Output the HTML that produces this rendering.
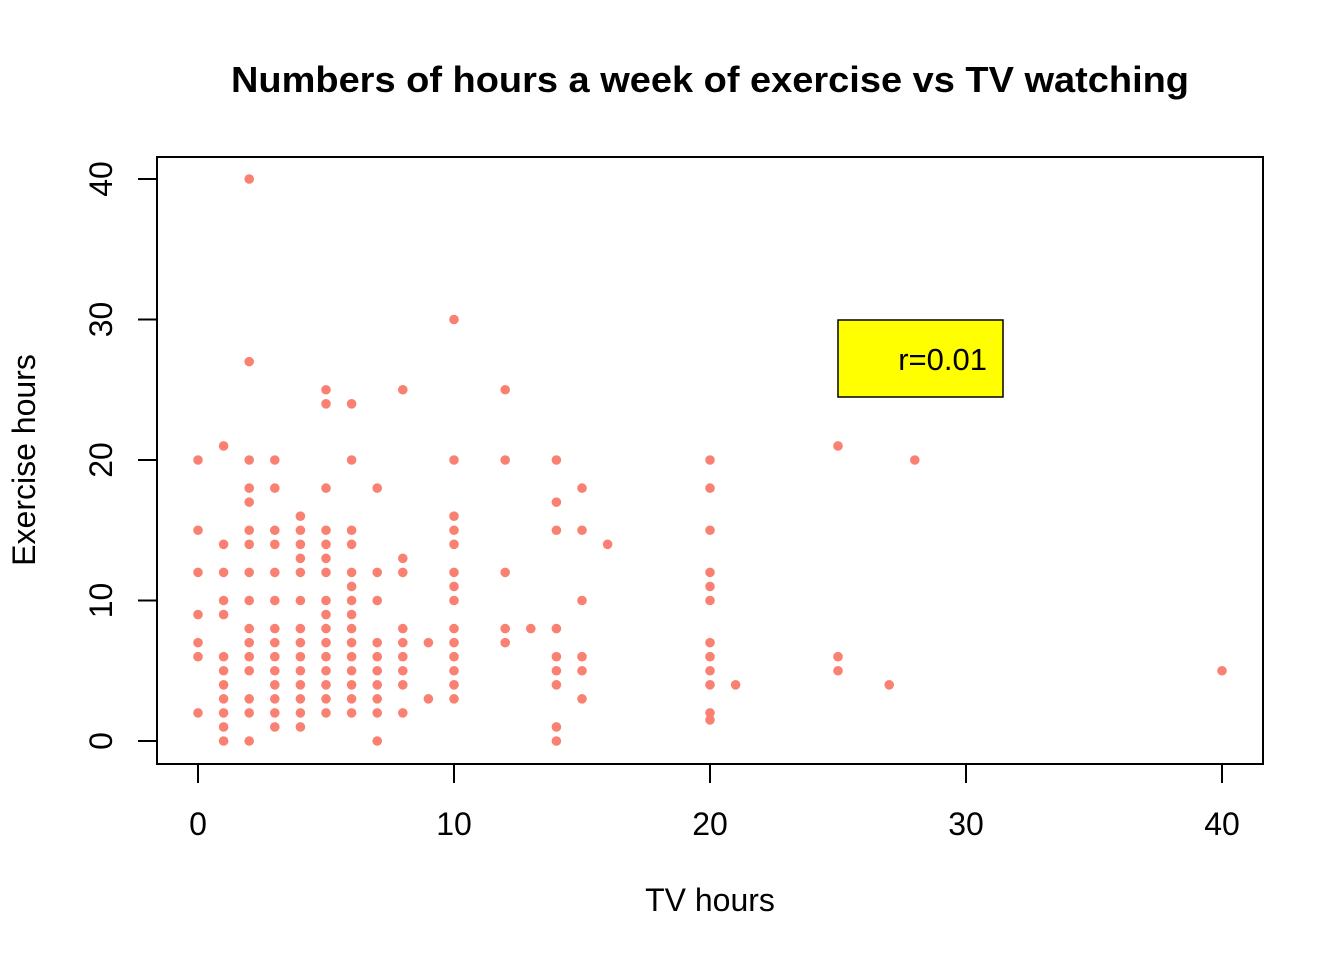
<!DOCTYPE html>
<html><head><meta charset="utf-8"><style>
body{margin:0;background:#fff}
svg{display:block;font-family:"Liberation Sans",Arial,sans-serif}
</style></head><body>
<svg id="chart" width="1344" height="960" viewBox="0 0 1344 960">
<text x="710" y="92" text-anchor="middle" font-size="36" font-weight="bold" textLength="958" lengthAdjust="spacingAndGlyphs">Numbers of hours a week of exercise vs TV watching</text>
<rect x="157" y="157" width="1106" height="607" fill="none" stroke="#000" stroke-width="2"/>
<g id="xaxis"></g>
<g id="yaxis"></g>
<text x="710" y="911" text-anchor="middle" font-size="32">TV hours</text>
<text transform="translate(35,460) rotate(-90)" text-anchor="middle" font-size="32">Exercise hours</text>
<g id="points"></g>
<rect x="838" y="320" width="165" height="77" fill="#ffff00" stroke="#000" stroke-width="1.5"/>
<text x="987" y="370" text-anchor="end" font-size="31">r=0.01</text>
</svg>
<script>
const xTicks=[0,10,20,30,40];
const yTicks=[0,10,20,30,40];
const tvHours=[
0,0,0,0,0,0,0,
1,1,1,1,1,1,1,1,1,1,1,1,
2,2,2,2,2,2,2,2,2,2,2,2,2,2,2,2,
3,3,3,3,3,3,3,3,3,3,3,3,3,3,
4,4,4,4,4,4,4,4,4,4,4,4,4,4,
5,5,5,5,5,5,5,5,5,5,5,5,5,5,5,5,
6,6,6,6,6,6,6,6,6,6,6,6,6,6,6,
7,7,7,7,7,7,7,7,7,7,
8,8,8,8,8,8,8,8,8,
9,9,
10,10,10,10,10,10,10,10,10,10,10,10,10,10,
12,12,12,12,12,13,
14,14,14,14,14,14,14,14,14,
15,15,15,15,15,15,16,
20,20,20,20,20,20,20,20,20,20,20,20,
21,25,25,25,27,28,40];
const exerciseHours=[
20,15,12,9,7,6,2,
21,14,12,10,9,6,5,4,3,2,1,0,
40,27,20,18,17,15,14,12,10,8,7,6,5,3,2,0,
20,18,15,14,12,10,8,7,6,5,4,3,2,1,
16,15,14,13,12,10,8,7,6,5,4,3,2,1,
25,24,18,15,14,13,12,10,9,8,7,6,5,4,3,2,
24,20,15,14,12,11,10,9,8,7,6,5,4,3,2,
18,12,10,7,6,5,4,3,2,0,
25,13,12,8,7,6,5,4,2,
7,3,
30,20,16,15,14,12,11,10,8,7,6,5,4,3,
25,20,12,8,7,8,
20,17,15,8,6,5,4,1,0,
18,15,10,6,5,3,14,
20,18,15,12,11,10,7,6,5,4,2,1.5,
4,21,6,5,4,20,5];
const NS="http://www.w3.org/2000/svg";
const xs=v=>198+v*25.6;
const ys=v=>741-v*14.05;
function mk(tag,attrs){const e=document.createElementNS(NS,tag);for(const k in attrs)e.setAttribute(k,attrs[k]);return e;}
const xa=document.getElementById('xaxis'),ya=document.getElementById('yaxis'),pg=document.getElementById('points');
xa.appendChild(mk('line',{x1:xs(xTicks[0]),x2:xs(xTicks[xTicks.length-1]),y1:764,y2:764,stroke:'#000','stroke-width':2}));
xTicks.forEach(t=>{
  const l=mk('line',{x1:xs(t),x2:xs(t),y1:764,y2:783,stroke:'#000','stroke-width':2});
  
  
  xa.appendChild(l);
  const tx=mk('text',{x:xs(t),y:835,'text-anchor':'middle','font-size':32});
  
  
  tx.textContent=t;xa.appendChild(tx);
});
ya.appendChild(mk('line',{x1:157,x2:157,y1:ys(yTicks[0]),y2:ys(yTicks[yTicks.length-1]),stroke:'#000','stroke-width':2}));
yTicks.forEach(t=>{
  const l=mk('line',{x1:138,x2:157,y1:ys(t),y2:ys(t),stroke:'#000','stroke-width':2});
  
  
  ya.appendChild(l);
  const tx=mk('text',{transform:`translate(112,${ys(t)}) rotate(-90)`,'text-anchor':'middle','font-size':32});
  
  
  tx.textContent=t;ya.appendChild(tx);
});
tvHours.forEach((x,i)=>{
  const c=mk('circle',{cx:xs(x),cy:ys(exerciseHours[i]),r:4.8,fill:'#fa8072'});
  
  
  pg.appendChild(c);
});
</script>
</body></html>
